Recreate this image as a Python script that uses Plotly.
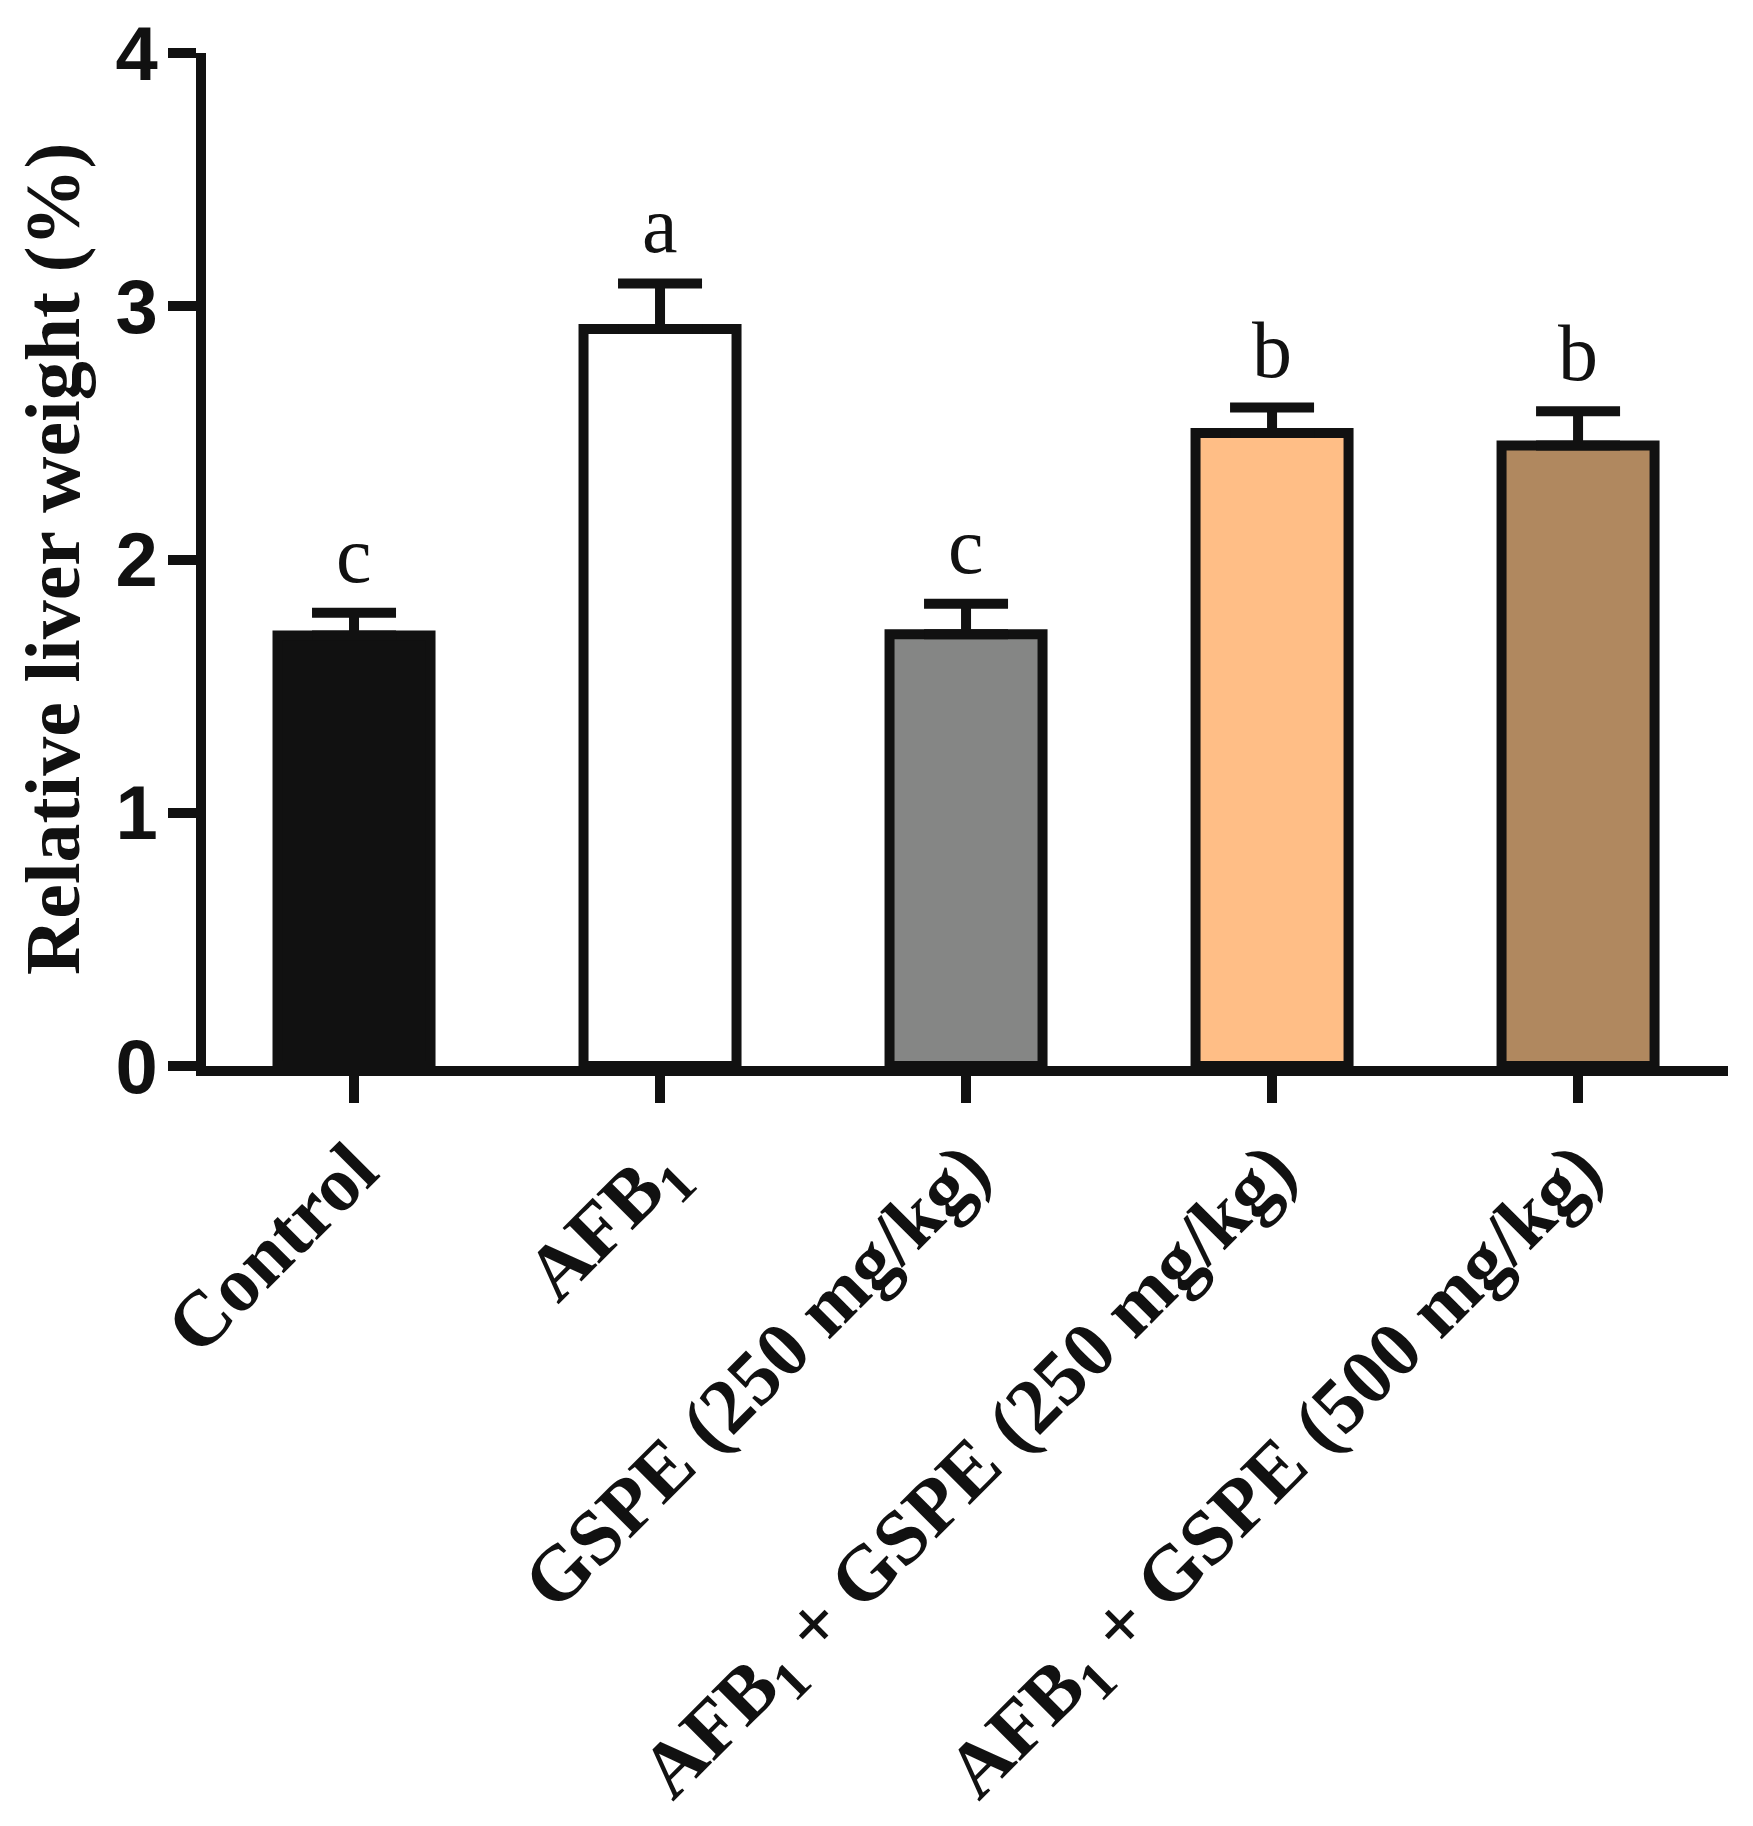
import plotly.graph_objects as go

# ==========================================
# DATA
# ==========================================
groups = [
    "Control",
    "AFB<sub>1</sub>",
    "GSPE (250 mg/kg)",
    "AFB<sub>1</sub> + GSPE (250 mg/kg)",
    "AFB<sub>1</sub> + GSPE (500 mg/kg)",
]
means = [1.70, 2.91, 1.705, 2.50, 2.45]
errors = [0.09, 0.18, 0.12, 0.10, 0.135]
letters = ["c", "a", "c", "b", "b"]
bar_colors = ["#111111", "#ffffff", "#858685", "#ffbe86", "#b0885f"]
y_ticks = [0, 1, 2, 3, 4]

INK = "#111111"
W, H = 1753, 1826
L, R, T, B = 198, 33, 45, 768
PW = W - L - R

# ==========================================
# FIGURE
# ==========================================
fig = go.Figure()

fig.add_trace(go.Bar(
    x=list(range(len(groups))),
    y=means,
    width=0.5,
    marker=dict(color=bar_colors, line=dict(color=INK, width=10)),
    error_y=dict(type="data", array=errors, arrayminus=[0] * len(errors),
                 symmetric=False, color=INK, thickness=10, width=42),
    showlegend=False,
))

# significance letters above the error bars
for i, (m, e, t) in enumerate(zip(means, errors, letters)):
    fig.add_annotation(
        x=i, y=m + e, text=t, showarrow=False,
        xanchor="center", yanchor="bottom", yshift=12,
        font=dict(family="Liberation Serif", size=80, color=INK),
    )

# y axis title
fig.add_annotation(
    xref="paper", yref="paper",
    x=(-1 - L) / PW, y=0.5,
    text="<b>Relative liver weight (%)</b>", textangle=-90,
    showarrow=False, xanchor="left", yanchor="middle",
    font=dict(family="Liberation Serif", size=78, color=INK),
)

fig.update_layout(
    width=W, height=H,
    margin=dict(l=L, r=R, t=T, b=B),
    plot_bgcolor="white",
    paper_bgcolor="white",
    xaxis=dict(
        range=[-0.4837, 4.49],
        tickmode="array",
        tickvals=list(range(len(groups))),
        ticktext=["<b>" + g + "</b>" for g in groups],
        tickangle=-45,
        ticks="outside", ticklen=27, tickwidth=10, tickcolor=INK,
        ticklabelstandoff=-10,
        showline=True, linewidth=10, linecolor=INK,
        showgrid=False, zeroline=False, automargin=False,
        tickfont=dict(family="Liberation Serif", size=78, color=INK),
    ),
    yaxis=dict(
        range=[0, 4],
        tickmode="array", tickvals=y_ticks,
        ticktext=["<b>%d</b>" % v for v in y_ticks],
        ticks="outside", ticklen=28, tickwidth=10, tickcolor=INK,
        ticklabelstandoff=-5,
        showline=True, linewidth=10, linecolor=INK,
        showgrid=False, zeroline=False, automargin=False,
        tickfont=dict(family="Liberation Sans", size=76, color=INK),
    ),
)

fig.write_html("out.html")
